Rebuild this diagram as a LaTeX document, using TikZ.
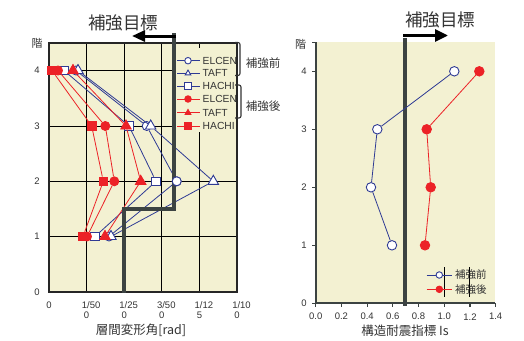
\documentclass[tikz,border=0pt]{standalone}
\usepackage{fontspec}
\setmainfont{Liberation Sans}
\newfontfamily\jp{Noto Sans CJK JP}
\usetikzlibrary{shapes.geometric,arrows.meta}
\definecolor{bg}{HTML}{F3F1D2}
\definecolor{bl}{HTML}{2E3A94}
\definecolor{rd}{HTML}{EC2227}
\definecolor{tg}{HTML}{3C4342}
\definecolor{tx}{HTML}{333333}
\begin{document}
\begin{tikzpicture}[x=1pt,y=-1pt,
  mk/.style={inner sep=0pt,line width=0.9pt},
  bcirc/.style={mk,circle,draw=bl,fill=white,minimum size=9pt},
  btri/.style={mk,regular polygon,regular polygon sides=3,draw=bl,fill=white,minimum size=12pt},
  bsq/.style={mk,rectangle,draw=bl,fill=white,minimum size=8.5pt},
  rcirc/.style={mk,circle,draw=rd,fill=rd,minimum size=9pt},
  rtri/.style={mk,regular polygon,regular polygon sides=3,draw=rd,fill=rd,minimum size=12pt},
  rsq/.style={mk,rectangle,draw=rd,fill=rd,minimum size=8.5pt},
  small/.style={minimum size=6.5pt},
  bline/.style={draw=bl,line width=0.8pt},
  rline/.style={draw=rd,line width=0.8pt},
  gridl/.style={draw=black,line width=0.7pt},
  ticklab/.style={text=tx,font=\fontsize{9.5}{10}\selectfont,inner sep=0pt},
  lgtext/.style={text=tx,font=\fontsize{10.3}{11}\selectfont,inner sep=0pt,anchor=west},
  jplab/.style={text=tx,font=\jp\fontsize{11.5}{12}\selectfont,inner sep=0pt},
  axlab/.style={text=tx,font=\jp\fontsize{12.5}{13}\selectfont,inner sep=0pt},
  ttl/.style={text=tx,font=\jp\fontsize{17.5}{18}\selectfont,inner sep=0pt},
  target/.style={draw=tg,line width=4pt},
  tarrow/.style={draw=black,line width=3pt,-{Triangle[length=13pt,width=11pt]}},
  brack/.style={draw=tx,line width=1.1pt,rounded corners=2pt}
]
\useasboundingbox (0,0) rectangle (524,340);

% ================= LEFT PLOT =================
\fill[bg] (49,43) rectangle (237,292);
\foreach \x in {86.6,124.2,161.8,199.4} \draw[gridl] (\x,43) -- (\x,292);
\foreach \y in {70.5,126,181.3,236.5} \draw[gridl] (49,\y) -- (237,\y);
\fill[bg] (176,48) rectangle (236,132);
\draw[line width=1.3pt,black!85] (49,43) rectangle (237,292);

% data markers (before)
\node[bcirc] (bc1) at (109,236.5) {};
\node[bcirc] (bc2) at (176.7,181.3) {};
\node[bcirc] (bc3) at (146.7,126) {};
\node[bcirc] (bc4) at (76,70.5) {};
\node[btri] (bt1) at (111,236.5) {};
\node[btri] (bt2) at (213.3,181.3) {};
\node[btri] (bt3) at (150.7,126) {};
\node[btri] (bt4) at (78,70.5) {};
\node[bsq] (bs1) at (95,236.5) {};
\node[bsq] (bs2) at (156,181.3) {};
\node[bsq] (bs3) at (129,126) {};
\node[bsq] (bs4) at (64,70.5) {};
% data markers (after)
\node[rcirc] (rc1) at (87,236.5) {};
\node[rcirc] (rc2) at (114.3,181.3) {};
\node[rcirc] (rc3) at (105.3,126) {};
\node[rcirc] (rc4) at (58,70.5) {};
\node[rtri] (rt1) at (105,236.5) {};
\node[rtri] (rt2) at (140.7,181.3) {};
\node[rtri] (rt3) at (126,126) {};
\node[rtri] (rt4) at (73,70.5) {};
\node[rsq] (rs1) at (83,236.5) {};
\node[rsq] (rs2) at (103.3,181.3) {};
\node[rsq] (rs3) at (91.7,126) {};
\node[rsq] (rs4) at (52,70.5) {};

\draw[bline] (bc1) -- (bc2) -- (bc3) -- (bc4);
\draw[bline] (bt1) -- (bt2) -- (bt3) -- (bt4);
\draw[bline] (bs1) -- (bs2) -- (bs3) -- (bs4);
\draw[rline] (rc1) -- (rc2) -- (rc3) -- (rc4);
\draw[rline] (rt1) -- (rt2) -- (rt3) -- (rt4);
\draw[rline] (rs1) -- (rs2) -- (rs3) -- (rs4);

% target line
\coordinate (lt1) at (174,33);
\coordinate (lt2) at (174,209.3);
\coordinate (lt3) at (124,209.3);
\coordinate (lt4) at (124,293);
\draw[target] (lt1) -- (lt2) -- (lt3) -- (lt4);
\coordinate (la1) at (176,36);
\coordinate (la2) at (132,36);
\draw[tarrow] (la1) -- (la2);
\node[ttl] (ttl1) at (123,23) {補強目標};

% marker that sits on the target line
\node[bcirc] (bc2top) at (bc2) {};

% legend
\foreach \y/\st/\lb/\ln [count=\i] in {60.7/bcirc/ELCEN/bline, 73.3/btri/TAFT/bline, 86/bsq/HACHI/bline, 99/rcirc/ELCEN/rline, 112.7/rtri/TAFT/rline, 126/rsq/HACHI/rline}{
  \coordinate (lga\i) at (177,\y);
  \coordinate (lgb\i) at (200,\y);
  \draw[\ln] (lga\i) -- (lgb\i);
  \node[\st,small] (lgm\i) at (188,\y) {};
  \node[lgtext] (lgt\i) at (202.5,\y) {\lb};
}
\draw[brack] (235,42.5) -- (240,42.5) -- (240,75.5) -- (235,75.5);
\draw[brack] (235,85) -- (241,85) -- (241,118) -- (235,118);
\node[jplab] (bef) at (263,63) {補強前};
\node[jplab] (aft) at (263,106) {補強後};

% axes labels
\node[ticklab,font=\jp\fontsize{11}{12}\selectfont] (lk) at (37,43) {階};
\foreach \y/\t in {70.5/4,126/3,181.3/2,236.5/1,292/0} \node[ticklab] at (37,\y) {\t};
\node[ticklab] at (49,305) {0};
\foreach \x/\a/\b in {86.6/1\slash 50/0,124.2/1\slash 25/0,161.8/3\slash 50/0,199.4/1\slash 12/5,237/1\slash 10/0}{
  \node[ticklab] at (\x+4.5,305) {\a};
  \node[ticklab] at (\x,315.7) {\b};
}
\node[axlab] (lxl) at (141,330) {層間変形角[rad]};

% ================= RIGHT PLOT =================
\fill[bg] (315.7,42.3) rectangle (495,303.3);
\foreach \y in {42.3,71.3,129.3,187.3,245.3,303.3} \draw[tg,line width=1.2pt] (312.3,\y) -- (315.7,\y);
\foreach \k in {0,...,7} \draw[tg,line width=1.2pt] (315.7+25.71*\k,303.3) -- (315.7+25.71*\k,306.8);
\draw[tg,line width=1.8pt] (315.7,42.3) -- (315.7,303.3) -- (495,303.3);
\draw[black,line width=0.8pt] (443.9,267) -- (443.9,297);
\draw[black,line width=0.8pt] (469.6,267) -- (469.6,297);

\coordinate (rt1a) at (405,38);
\coordinate (rt1b) at (405,305.5);
\draw[target] (rt1a) -- (rt1b);
\coordinate (ra1) at (403,35.5);
\coordinate (ra2) at (448,35.5);
\draw[tarrow,-{Triangle[length=13pt,width=12pt]}] (ra1) -- (ra2);
\node[ttl] (ttl2) at (440,20) {補強目標};

\node[bcirc,minimum size=9.5pt] (pb1) at (392,245.3) {};
\node[bcirc,minimum size=9.5pt] (pb2) at (371,187.3) {};
\node[bcirc,minimum size=9.5pt] (pb3) at (377.3,129.3) {};
\node[bcirc,minimum size=9.5pt] (pb4) at (454.3,71.3) {};
\node[rcirc,minimum size=9.5pt] (pr1) at (425,245.3) {};
\node[rcirc,minimum size=9.5pt] (pr2) at (430.7,187.3) {};
\node[rcirc,minimum size=9.5pt] (pr3) at (426.7,129.3) {};
\node[rcirc,minimum size=9.5pt] (pr4) at (479.3,71.3) {};
\draw[bline] (pb1) -- (pb2) -- (pb3) -- (pb4);
\draw[rline] (pr1) -- (pr2) -- (pr3) -- (pr4);

% right legend
\coordinate (rla1) at (426.7,275);
\coordinate (rlb1) at (451.7,275);
\coordinate (rla2) at (426.7,289.3);
\coordinate (rlb2) at (451.7,289.3);
\draw[bline] (rla1) -- (rlb1);
\draw[rline] (rla2) -- (rlb2);
\node[bcirc,minimum size=6.5pt] (rlm1) at (439.3,275) {};
\node[rcirc,minimum size=6.5pt] (rlm2) at (439.3,289.3) {};
\node[jplab,anchor=west,font=\jp\fontsize{10.5}{11}\selectfont] (rlt1) at (455,275) {補強前};
\node[jplab,anchor=west,font=\jp\fontsize{10.5}{11}\selectfont] (rlt2) at (455,289.3) {補強後};

\node[ticklab,font=\jp\fontsize{11}{12}\selectfont] (rk) at (300.7,44) {階};
\foreach \y/\t in {71.3/4,129.3/3,187.3/2,245.3/1,303.3/0} \node[ticklab] at (304,\y) {\t};
\foreach \k/\t in {0/0.0,1/0.2,2/0.4,3/0.6,4/0.8,5/1.0,6/1.2,7/1.4} \node[ticklab] at (315.7+25.71*\k,316.7) {\t};
\node[axlab] (rxl) at (405,330.5) {構造耐震指標 Is};
\end{tikzpicture}
\end{document}
